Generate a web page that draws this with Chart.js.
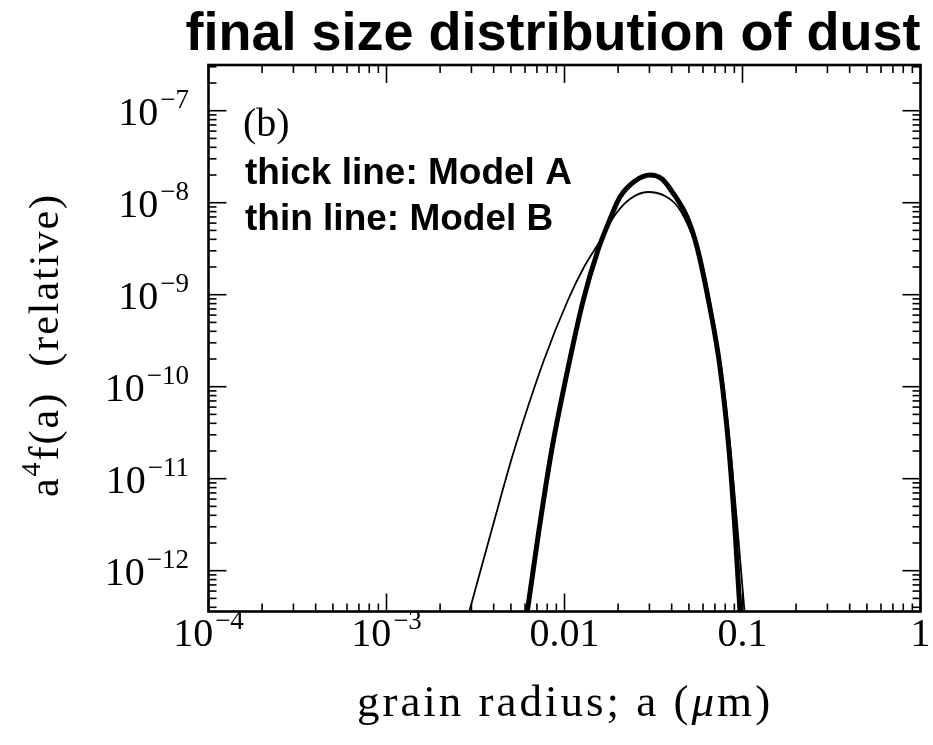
<!DOCTYPE html>
<html lang="en">
<head>
<meta charset="UTF-8">
<title>final size distribution of dust</title>
<script src="https://cdn.jsdelivr.net/npm/chart.js"></script>
<style>
  html, body { margin: 0; padding: 0; background: #fff; }
</style>
</head>
<body>
<canvas id="dustChart" width="933" height="745"></canvas>
<script>
// grain radius a (um) against a^4 f(a), model A (thick line)
const radiusA = [0.00618, 0.007191, 0.008475, 0.01013, 0.012755, 0.015427, 0.017556, 0.0205, 0.02489,
                 0.03022, 0.0353, 0.04071, 0.04878, 0.05552, 0.06483, 0.07473, 0.084, 0.09077, 0.09683];
const valueA = [3.6e-13, 2.77e-12, 2.05e-11, 1.18e-10, 8.76e-10, 3.06e-9, 5.87e-9, 1.153e-8, 1.72e-8,
                2.0e-8, 1.81e-8, 1.275e-8, 6.99e-9, 3.3e-9, 8.12e-10, 1.637e-10, 2.05e-11, 2.77e-12, 3.6e-13];

// model B (thin line)
const radiusB = [0.002918, 0.003899, 0.005159, 0.007669, 0.010464, 0.012874, 0.01635, 0.019215, 0.02333,
                 0.02945, 0.0367, 0.04341, 0.05072, 0.05885, 0.06828, 0.0782, 0.08675, 0.09495, 0.10261];
const valueB = [3.6e-13, 2.77e-12, 1.903e-11, 1.951e-10, 8.76e-10, 2.0e-9, 4.24e-9, 7.35e-9, 1.097e-8,
                1.307e-8, 1.183e-8, 8.98e-9, 5.05e-9, 2.266e-9, 5.58e-10, 1.043e-10, 1.597e-11, 2.157e-12, 3.6e-13];

const xTickValues = [1e-4, 1e-3, 0.01, 0.1, 1];
const xTickBase = ['10', '10', '0.01', '0.1', '1'];
const xTickExp = ['\u22124', '\u22123', '', '', ''];
const yTickValues = [1e-7, 1e-8, 1e-9, 1e-10, 1e-11, 1e-12];
const yTickExp = ['\u22127', '\u22128', '\u22129', '\u221210', '\u221211', '\u221212'];

const serif = '"Liberation Serif", "DejaVu Serif", serif';
const sans = '"Liberation Sans", Arial, sans-serif';

function toPoints(xs, ys) {
    return xs.map((x, i) => ({x: x, y: ys[i]}));
}

function seg(ctx, x1, y1, x2, y2) {
    ctx.beginPath();
    ctx.moveTo(x1, y1);
    ctx.lineTo(x2, y2);
    ctx.stroke();
}

// "10" with a raised exponent, or a plain number when exp is empty
function drawPow(ctx, base, exp, x, y, align) {
    ctx.font = '40px ' + serif;
    const wb = ctx.measureText(base).width;
    ctx.font = '27px ' + serif;
    const we = exp ? ctx.measureText(exp).width + 2 : 0;
    const left = align === 'right' ? x - wb - we : x - (wb + we) / 2;
    ctx.textAlign = 'left';
    ctx.font = '40px ' + serif;
    ctx.fillText(base, left, y);
    if (exp) {
        ctx.font = '27px ' + serif;
        ctx.fillText(exp, left + wb + 2, y - 17);
    }
}

const axesPlugin = {
    id: 'axesPlugin',
    afterDraw(chart) {
        const ctx = chart.ctx;
        const area = chart.chartArea;
        const xs = chart.scales.x;
        const ys = chart.scales.y;
        ctx.save();
        ctx.strokeStyle = '#000';
        ctx.fillStyle = '#000';

        // inward ticks on all four sides
        ctx.lineWidth = 1.6;
        for (let e = -4; e <= 0; e++) {
            for (let m = 1; m <= 9; m++) {
                const v = m * Math.pow(10, e);
                if (v < xs.min * 0.999 || v > xs.max * 1.001) continue;
                const px = xs.getPixelForValue(v);
                const len = m === 1 ? 18 : 8;
                seg(ctx, px, area.bottom, px, area.bottom - len);
                seg(ctx, px, area.top, px, area.top + len);
            }
        }
        for (let e = -13; e <= -7; e++) {
            for (let m = 1; m <= 9; m++) {
                const v = m * Math.pow(10, e);
                if (v < ys.min || v > ys.max) continue;
                const py = ys.getPixelForValue(v);
                const len = m === 1 ? 18 : 8;
                seg(ctx, area.left, py, area.left + len, py);
                seg(ctx, area.right, py, area.right - len, py);
            }
        }

        // frame
        ctx.lineWidth = 2.6;
        ctx.strokeRect(area.left, area.top, area.right - area.left, area.bottom - area.top);

        // tick labels
        ctx.textBaseline = 'alphabetic';
        xTickValues.forEach((v, i) => {
            drawPow(ctx, xTickBase[i], xTickExp[i], xs.getPixelForValue(v), area.bottom + 34, 'center');
        });
        yTickValues.forEach((v, i) => {
            drawPow(ctx, '10', yTickExp[i], 189, ys.getPixelForValue(v) + 14, 'right');
        });

        // title
        ctx.textAlign = 'center';
        ctx.font = 'bold 54px ' + sans;
        ctx.fillText('final size distribution of dust', 553, 50);

        // x axis title
        ctx.letterSpacing = '3px';
        ctx.textAlign = 'left';
        const xt1 = 'grain radius; a (';
        const xt2 = '\u03bc';
        const xt3 = 'm)';
        ctx.font = '45px ' + serif;
        const w1 = ctx.measureText(xt1).width;
        const w3 = ctx.measureText(xt3).width;
        ctx.font = 'italic 45px ' + serif;
        const w2 = ctx.measureText(xt2).width;
        const tx = 565 - (w1 + w2 + w3) / 2;
        ctx.font = '45px ' + serif;
        ctx.fillText(xt1, tx, 716);
        ctx.font = 'italic 45px ' + serif;
        ctx.fillText(xt2, tx + w1, 716);
        ctx.font = '45px ' + serif;
        ctx.fillText(xt3, tx + w1 + w2, 716);

        // y axis title, rotated
        ctx.letterSpacing = '2px';
        ctx.save();
        ctx.translate(58, 345);
        ctx.rotate(-Math.PI / 2);
        const yt1 = 'a';
        const yt2 = '4';
        const yt3 = 'f(a)  (relative)';
        ctx.font = '42px ' + serif;
        const v1 = ctx.measureText(yt1).width;
        const v3 = ctx.measureText(yt3).width;
        ctx.font = '28px ' + serif;
        const v2 = ctx.measureText(yt2).width;
        const ty = -(v1 + v2 + v3) / 2;
        ctx.font = '42px ' + serif;
        ctx.fillText(yt1, ty, 0);
        ctx.font = '28px ' + serif;
        ctx.fillText(yt2, ty + v1, -18);
        ctx.font = '42px ' + serif;
        ctx.fillText(yt3, ty + v1 + v2, 0);
        ctx.restore();
        ctx.letterSpacing = '0px';

        // panel mark and line key
        ctx.textAlign = 'left';
        ctx.font = '40px ' + serif;
        ctx.fillText('(b)', 243, 136);
        ctx.font = 'bold 37px ' + sans;
        ctx.fillText('thick line: Model A', 245, 184);
        ctx.fillText('thin line: Model B', 245, 230);

        ctx.restore();
    }
};

new Chart(document.getElementById('dustChart'), {
    type: 'line',
    data: {
        datasets: [{
            label: 'Model A',
            data: toPoints(radiusA, valueA),
            borderColor: '#000',
            borderWidth: 5,
            pointRadius: 0,
            cubicInterpolationMode: 'monotone',
            fill: false
        }, {
            label: 'Model B',
            data: toPoints(radiusB, valueB),
            borderColor: '#000',
            borderWidth: 1.8,
            pointRadius: 0,
            cubicInterpolationMode: 'monotone',
            fill: false
        }]
    },
    options: {
        responsive: false,
        animation: false,
        layout: {
            padding: {left: 208.5, right: 12.5, top: 65, bottom: 133.5}
        },
        plugins: {
            legend: {display: false},
            tooltip: {enabled: false}
        },
        scales: {
            x: {
                type: 'logarithmic',
                display: false,
                min: 1e-4,
                max: 1
            },
            y: {
                type: 'logarithmic',
                display: false,
                min: 3.6e-13,
                max: 3.14e-7
            }
        }
    },
    plugins: [axesPlugin]
});
</script>
</body>
</html>
